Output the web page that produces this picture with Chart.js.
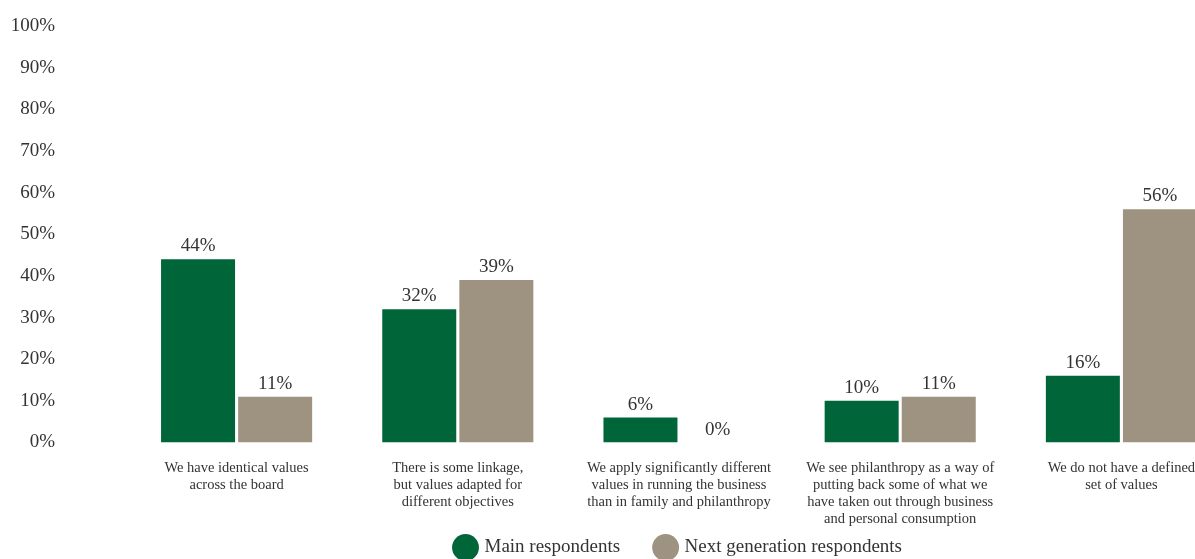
<!DOCTYPE html>
<html lang="en">

<head>
    <meta charset="UTF-8">
    <title>Values across business, family and philanthropy</title>
    <script src="https://cdn.jsdelivr.net/npm/chart.js"></script>
    <style>
        html, body { margin: 0; padding: 0; background: #fff; overflow: hidden; }
        .chart-box { width: 1232px; height: 567px; }
    </style>
</head>

<body>
    <div class="chart-box">
        <canvas id="valuesChart"></canvas>
    </div>

    <script>
        // categories and survey answers (%)
        const categories = [
            ['We have identical values', 'across the board'],
            ['There is some linkage,', 'but values adapted for', 'different objectives'],
            ['We apply significantly different', 'values in running the business', 'than in family and philanthropy'],
            ['We see philanthropy as a way of', 'putting back some of what we', 'have taken out through business', 'and personal consumption'],
            ['We do not have a defined', 'set of values']
        ];
        const mainRespondents = [44, 32, 6, 10, 16];
        const nextGeneration = [11, 39, 0, 11, 56];
        const seriesNames = ['Main respondents', 'Next generation respondents'];

        const serif = "'Liberation Serif', 'DejaVu Serif', serif";
        const textColor = '#333';
        const green = '#00663a';
        const taupe = '#9e9280';

        // value labels above each bar
        const valueLabels = {
            id: 'valueLabels',
            afterDatasetsDraw(chart) {
                const ctx = chart.ctx;
                ctx.save();
                ctx.font = '19px ' + serif;
                ctx.fillStyle = textColor;
                ctx.textAlign = 'center';
                ctx.textBaseline = 'alphabetic';
                chart.data.datasets.forEach((ds, i) => {
                    chart.getDatasetMeta(i).data.forEach((bar, j) => {
                        ctx.fillText(ds.data[j] + '%', bar.x, bar.y - 8);
                    });
                });
                ctx.restore();
            }
        };

        const barStyle = { barPercentage: 0.96, categoryPercentage: 0.697 };

        new Chart(document.getElementById('valuesChart'), {
            type: 'bar',
            data: {
                labels: categories,
                datasets: [
                    { label: seriesNames[0], data: mainRespondents, backgroundColor: green, ...barStyle },
                    { label: seriesNames[1], data: nextGeneration, backgroundColor: taupe, ...barStyle }
                ]
            },
            options: {
                responsive: true,
                maintainAspectRatio: false,
                animation: false,
                layout: { padding: { top: 26 } },
                plugins: {
                    legend: {
                        position: 'bottom',
                        fullSize: false,
                        labels: {
                            usePointStyle: true,
                            pointStyle: 'circle',
                            color: textColor,
                            font: { family: serif, size: 19 },
                            padding: 7.5,
                            // wider gap between the two entries
                            generateLabels: chart => Chart.defaults.plugins.legend.labels.generateLabels(chart)
                                .map((item, i, all) => {
                                    if (i < all.length - 1) item.text += '\u2003\u2002';
                                    return item;
                                })
                        }
                    },
                    tooltip: { enabled: false }
                },
                scales: {
                    x: {
                        grid: { display: false, drawTicks: false },
                        border: { display: false },
                        ticks: {
                            color: textColor,
                            font: { family: serif, size: 14.5, lineHeight: 1.17 },
                            padding: 17,
                            maxRotation: 0,
                            autoSkip: false
                        },
                        afterFit: s => { s.height = 88; }
                    },
                    y: {
                        min: 0,
                        max: 100,
                        grid: { display: false, drawTicks: false },
                        border: { display: false },
                        ticks: {
                            stepSize: 10,
                            color: textColor,
                            font: { family: serif, size: 19 },
                            padding: 71,
                            callback: v => v + '%'
                        },
                        afterFit: s => { s.width = 126; s.paddingTop = 0; s.paddingBottom = 0; }
                    }
                }
            },
            plugins: [valueLabels]
        });
    </script>
</body>

</html>
